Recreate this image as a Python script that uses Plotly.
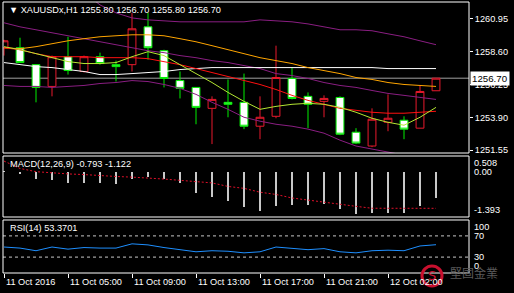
import plotly.graph_objects as go

# ---------------- data ----------------
bar_index = list(range(28))
tick_index = [0, 4, 8, 12, 16, 20, 24]
tick_labels = ["11 Oct 2016", "11 Oct 05:00", "11 Oct 09:00", "11 Oct 13:00",
               "11 Oct 17:00", "11 Oct 21:00", "12 Oct 02:00"]

opens = [1258.88, 1258.88, 1257.67, 1256.11, 1258.24, 1257.18, 1258.24, 1257.67,
         1257.67, 1260.38, 1258.67, 1256.53, 1256.04, 1254.54, 1254.97, 1254.97,
         1253.26, 1253.97, 1256.68, 1255.40, 1255.04, 1255.32, 1252.83, 1251.84,
         1253.54, 1253.69, 1253.12, 1255.80]
highs = [1259.45, 1259.60, 1257.67, 1258.32, 1259.67, 1258.32, 1258.53, 1257.96,
         1261.38, 1261.38, 1258.74, 1257.18, 1256.04, 1255.40, 1256.61, 1257.03,
         1255.40, 1259.03, 1257.46, 1255.68, 1255.47, 1255.40, 1253.12, 1254.54,
         1255.54, 1253.97, 1256.18, 1256.70]
lows = [1258.32, 1257.82, 1254.97, 1255.40, 1256.96, 1257.10, 1257.67, 1256.46,
        1257.18, 1258.03, 1256.04, 1255.25, 1253.40, 1251.98, 1253.90, 1253.05,
        1252.33, 1253.83, 1255.18, 1253.12, 1253.90, 1252.62, 1251.98, 1251.76,
        1252.90, 1252.33, 1253.12, 1255.80]
closes = [1259.38, 1257.82, 1256.04, 1258.24, 1257.25, 1258.24, 1257.75, 1257.53,
          1260.24, 1258.88, 1256.68, 1255.97, 1254.61, 1255.18, 1254.83, 1253.26,
          1253.90, 1256.75, 1255.25, 1254.83, 1255.25, 1252.69, 1252.05, 1253.76,
          1253.83, 1253.05, 1255.75, 1256.70]

ma_orange = [1258.88, 1258.81, 1258.96, 1259.17, 1259.38, 1259.53, 1259.67, 1259.74,
             1259.81, 1259.81, 1259.74, 1259.53, 1259.31, 1259.03, 1258.74, 1258.46,
             1258.17, 1257.96, 1257.75, 1257.46, 1257.25, 1257.03, 1256.75, 1256.61,
             1256.39, 1256.25, 1256.18, 1256.11]
ma_red = [1258.88, 1258.74, 1258.46, 1258.24, 1258.24, 1258.24, 1258.17, 1258.17,
          1258.17, 1258.10, 1257.89, 1257.67, 1257.39, 1257.10, 1256.82, 1256.53,
          1256.25, 1255.89, 1255.47, 1255.11, 1254.83, 1254.54, 1254.40, 1254.26,
          1254.19, 1254.19, 1254.26, 1254.33]
ma_white = [1257.82, 1257.67, 1257.53, 1257.46, 1257.32, 1257.18, 1256.96, 1256.96,
            1257.03, 1257.10, 1257.18, 1257.32, 1257.39, 1257.46, 1257.46, 1257.46,
            1257.46, 1257.46, 1257.46, 1257.46, 1257.46, 1257.46, 1257.46, 1257.46,
            1257.39, 1257.39, 1257.39, 1257.39]
ma_fast = [1258.96, 1258.74, 1258.46, 1258.17, 1257.89, 1257.75, 1257.75, 1257.82,
           1258.24, 1258.60, 1258.32, 1257.67, 1257.03, 1256.39, 1255.68, 1255.04,
           1254.47, 1254.68, 1254.83, 1254.90, 1254.83, 1254.61, 1254.26, 1253.83,
           1253.54, 1253.33, 1253.90, 1254.61]
bb_upper = [1266.58, 1265.86, 1265.15, 1264.44, 1263.73, 1262.87, 1261.95, 1261.38,
            1261.02, 1260.88, 1260.81, 1260.74, 1260.74, 1260.74, 1260.74, 1260.74,
            1260.88, 1260.81, 1260.74, 1260.59, 1260.38, 1260.17, 1260.17, 1260.10,
            1259.88, 1259.67, 1259.38, 1259.10]
bb_mid = [1260.67, 1260.38, 1260.17, 1259.95, 1259.74, 1259.53, 1259.31, 1259.10,
          1258.88, 1258.67, 1258.53, 1258.32, 1258.17, 1257.96, 1257.82, 1257.60,
          1257.39, 1257.03, 1256.89, 1256.68, 1256.39, 1256.18, 1256.04, 1255.82,
          1255.61, 1255.47, 1255.32, 1255.18]
bb_lower = [1256.18, 1256.11, 1256.11, 1256.04, 1256.11, 1256.18, 1256.32, 1256.39,
            1256.53, 1256.46, 1256.25, 1255.97, 1255.54, 1254.97, 1254.47, 1253.90,
            1253.62, 1253.40, 1253.26, 1253.05, 1252.76, 1252.26, 1251.84, 1251.62,
            1251.41, 1251.19, 1251.12, 1251.12]

macd_main = [0.03, -0.04, -0.22, -0.25, -0.32, -0.32, -0.32, -0.35, -0.22, -0.15,
             -0.22, -0.32, -0.63, -0.76, -0.90, -1.07, -1.21, -1.05, -1.03, -1.03,
             -1.00, -1.13, -1.29, -1.28, -1.26, -1.26, -1.05, -0.793]
macd_signal = [0.35, 0.12, 0.02, -0.02, -0.05, -0.07, -0.11, -0.13, -0.15, -0.17,
               -0.21, -0.25, -0.30, -0.33, -0.44, -0.50, -0.62, -0.69, -0.80, -0.87,
               -0.94, -1.00, -1.06, -1.12, -1.12, -1.12, -1.12, -1.122]
rsi = [49, 47, 42, 49, 45, 48, 47, 47, 55, 53, 48, 44, 40, 42, 41, 38, 40, 49, 46, 44,
       46, 40, 38, 42, 43, 42, 51, 53.3701]

price_ticks = [1251.55, 1253.90, 1256.25, 1258.60, 1260.95]
macd_ticks = [0.508, 0.0, -1.393]
rsi_ticks = [100, 70, 30, 0]

# ---------------- figure ----------------
FONT = "Liberation Sans, Arial, sans-serif"
FS = 9.2
fig = go.Figure()

fig.add_trace(go.Candlestick(
    x=bar_index, open=opens, high=highs, low=lows, close=closes,
    increasing=dict(line=dict(color="#e8192c", width=1), fillcolor="black"),
    decreasing=dict(line=dict(color="#00ee00", width=1), fillcolor="white"),
    whiskerwidth=0, hoverinfo="skip", yaxis="y"))

line_specs = [
    (bb_upper, "#8a1e82"), (bb_mid, "#8a1e82"), (bb_lower, "#8a1e82"),
    (ma_white, "#ffffff"), (ma_orange, "#ffa500"), (ma_red, "#ff1010"),
    (ma_fast, "#b4e632"),
]
for vals, col in line_specs:
    fig.add_trace(go.Scatter(x=bar_index, y=vals, mode="lines",
                             line=dict(color=col, width=1), hoverinfo="skip", yaxis="y"))

fig.add_trace(go.Bar(x=bar_index, y=macd_main, width=0.14, marker=dict(color="#c8c8c8", line=dict(width=0)),
                     hoverinfo="skip", yaxis="y2"))
fig.add_trace(go.Scatter(x=bar_index, y=macd_signal, mode="lines",
                         line=dict(color="#e0102a", width=1, dash="2px,2px"), hoverinfo="skip", yaxis="y2"))
fig.add_trace(go.Scatter(x=bar_index, y=rsi, mode="lines",
                         line=dict(color="#1e8fff", width=1), hoverinfo="skip", yaxis="y3"))

shapes = []
for ya in ["y", "y2", "y3"]:
    shapes.append(dict(type="rect", xref="x domain", yref=f"{ya} domain", x0=0, x1=1, y0=0, y1=1,
                       line=dict(color="white", width=1), fillcolor="rgba(0,0,0,0)", layer="above"))
shapes.append(dict(type="line", xref="x domain", yref="y", x0=0, x1=1, y0=closes[-1], y1=closes[-1],
                   line=dict(color="#a0a0a0", width=1), layer="below"))
for lv in [70, 30]:
    shapes.append(dict(type="line", xref="x domain", yref="y3", x0=0, x1=1, y0=lv, y1=lv,
                       line=dict(color="#c8c8c8", width=1, dash="3px,3px"), layer="below"))
# watermark logo ring
shapes.append(dict(type="circle", xref="paper", yref="paper", xsizemode="pixel", ysizemode="pixel",
                   xanchor=0.9206, yanchor=-0.011, x0=-10, x1=10, y0=-10, y1=10,
                   line=dict(color="#c8102e", width=3), fillcolor="rgba(0,0,0,0)", layer="above"))

ann = []
header = "▼ XAUUSDx,H1 {:.2f} {:.2f} {:.2f} {:.2f}".format(opens[-1], highs[-1], lows[-1], closes[-1])
ann.append(dict(text=header, xref="paper", yref="paper", x=0, y=0.9705, xanchor="left", yanchor="middle",
                xshift=4, showarrow=False, font=dict(color="white", size=FS, family=FONT)))
ann.append(dict(text="MACD(12,26,9) {:.3f} {:.3f}".format(macd_main[-1], macd_signal[-1]),
                xref="paper", yref="paper", x=0, y=0.4022, xanchor="left", yanchor="middle",
                xshift=5, showarrow=False, font=dict(color="white", size=FS, family=FONT)))
ann.append(dict(text="RSI(14) {:.4f}".format(rsi[-1]), xref="paper", yref="paper", x=0, y=0.165,
                xanchor="left", yanchor="middle", xshift=5, showarrow=False,
                font=dict(color="white", size=FS, family=FONT)))
for xv, lab in zip(tick_index, tick_labels):
    ann.append(dict(text=lab, xref="x", yref="paper", x=xv, y=-0.033, xanchor="left", yanchor="middle",
                    showarrow=False, font=dict(color="white", size=FS, family=FONT)))
anchors = {0: "top", 1: "middle", 2: "bottom"}
for i, v in enumerate(macd_ticks):
    txt = "0.00" if v == 0 else "{:.3f}".format(v)
    ann.append(dict(text=txt, xref="paper", yref="y2", x=1, y=v, xanchor="left", yanchor=anchors[i],
                    xshift=3, showarrow=False, font=dict(color="white", size=FS, family=FONT)))
rs_anch = ["top", "middle", "middle", "bottom"]
for v, a in zip(rsi_ticks, rs_anch):
    ann.append(dict(text=str(v), xref="paper", yref="y3", x=1, y=v, xanchor="left", yanchor=a,
                    xshift=3, showarrow=False, font=dict(color="white", size=FS, family=FONT)))
ann.append(dict(text="{:.2f}".format(closes[-1]), xref="paper", yref="y", x=1, y=closes[-1],
                xanchor="left", yanchor="middle", xshift=1, showarrow=False, bgcolor="white",
                borderpad=1, font=dict(color="black", size=FS + 0.5, family=FONT)))
# watermark text
ann.append(dict(text="S", xref="paper", yref="paper", x=0.9206, y=-0.011, xanchor="center", yanchor="middle",
                showarrow=False, font=dict(color="#c8102e", size=13, family="DejaVu Sans")))
ann.append(dict(text="堅固金業", xref="paper", yref="paper", x=0.955, y=0.003, xanchor="left",
                yanchor="middle", showarrow=False,
                font=dict(color="#5a5a5a", size=12, family="Noto Sans CJK TC")))

fig.update_layout(
    width=514, height=293, margin=dict(l=3, r=45, t=2, b=20),
    paper_bgcolor="black", plot_bgcolor="black", showlegend=False,
    font=dict(family=FONT, size=FS, color="white"),
    shapes=shapes, annotations=ann, bargap=0,
    xaxis=dict(domain=[0, 1], range=[-0.0625, 29.0625], anchor="y3", showgrid=False, zeroline=False,
               tickmode="array", tickvals=tick_index, ticks="outside", ticklen=4, tickcolor="white",
               showticklabels=False, showline=False, rangeslider=dict(visible=False), fixedrange=True),
    yaxis=dict(domain=[0.4428, 1], range=[1251.34, 1262.16], side="right", anchor="x",
               tickmode="array", tickvals=price_ticks, ticktext=["{:.2f}".format(t) for t in price_ticks],
               ticks="outside", ticklen=3, tickcolor="white", showgrid=False, zeroline=False,
               showline=False, tickfont=dict(color="white", size=FS, family=FONT), fixedrange=True),
    yaxis2=dict(domain=[0.2066, 0.4317], range=[-1.393, 0.508], side="right", anchor="x",
                showticklabels=False, showgrid=False, zeroline=False, showline=False, fixedrange=True),
    yaxis3=dict(domain=[0, 0.1956], range=[0, 100], side="right", anchor="x",
                showticklabels=False, showgrid=False, zeroline=False, showline=False, fixedrange=True),
)

fig.write_html("out.html", config={"displayModeBar": False, "staticPlot": True})
